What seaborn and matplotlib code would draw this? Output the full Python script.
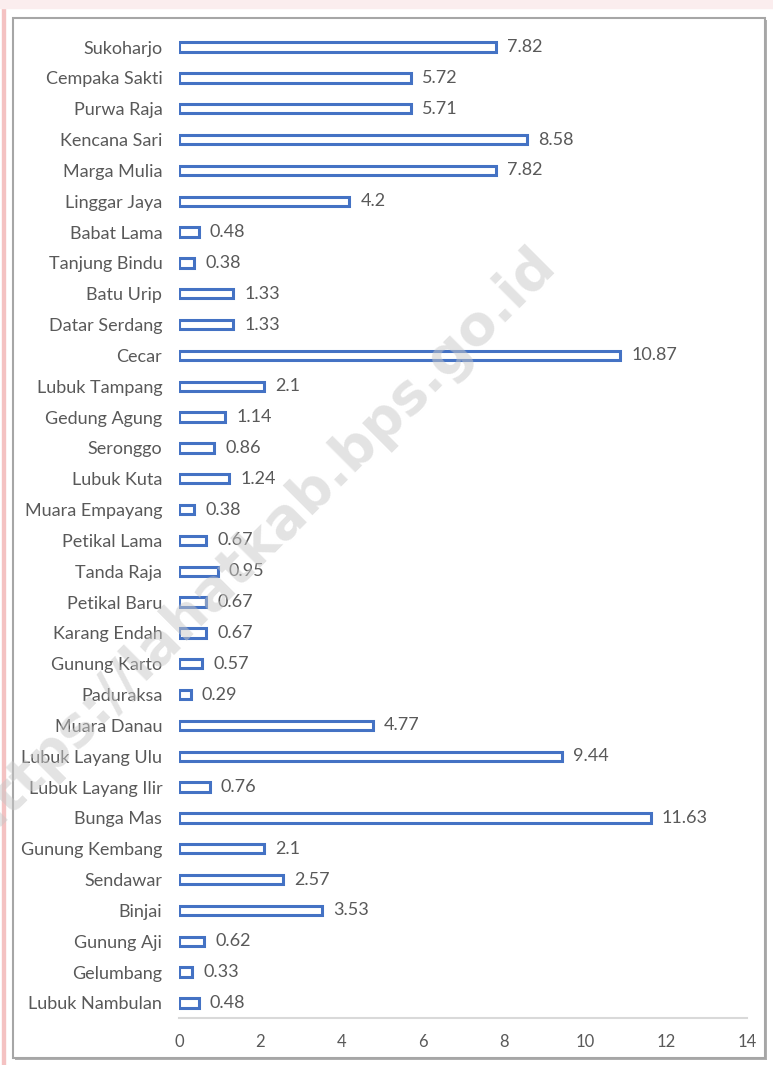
import matplotlib
matplotlib.use("Agg")
import matplotlib.pyplot as plt
import seaborn as sns
import pandas as pd
from matplotlib.patches import Rectangle

villages = ["Sukoharjo", "Cempaka Sakti", "Purwa Raja", "Kencana Sari", "Marga Mulia",
            "Linggar Jaya", "Babat Lama", "Tanjung Bindu", "Batu Urip", "Datar Serdang",
            "Cecar", "Lubuk Tampang", "Gedung Agung", "Seronggo", "Lubuk Kuta",
            "Muara Empayang", "Petikal Lama", "Tanda Raja", "Petikal Baru", "Karang Endah",
            "Gunung Karto", "Paduraksa", "Muara Danau", "Lubuk Layang Ulu", "Lubuk Layang Ilir",
            "Bunga Mas", "Gunung Kembang", "Sendawar", "Binjai", "Gunung Aji",
            "Gelumbang", "Lubuk Nambulan"]
values = [7.82, 5.72, 5.71, 8.58, 7.82,
          4.2, 0.48, 0.38, 1.33, 1.33,
          10.87, 2.1, 1.14, 0.86, 1.24,
          0.38, 0.67, 0.95, 0.67, 0.67,
          0.57, 0.29, 4.77, 9.44, 0.76,
          11.63, 2.1, 2.57, 3.53, 0.62,
          0.33, 0.48]
x_ticks = [0, 2, 4, 6, 8, 10, 12, 14]

df = pd.DataFrame({"desa": villages, "nilai": values})

sns.set_style("white")
plt.rcParams["font.family"] = ["Lato", "DejaVu Sans"]
gray = "#595959"
blue = "#4472C4"

fig = plt.figure(figsize=(7.73, 10.65), dpi=100)
ax = fig.add_axes([0.2316, 0.0438, 0.7348, 0.9265])

sns.barplot(data=df, x="nilai", y="desa", orient="h", color="white",
            edgecolor=blue, linewidth=2.2, width=0.3, saturation=1, ax=ax)

ax.bar_label(ax.containers[0], labels=[str(v) for v in values], padding=8,
             fontsize=13, color=gray)

ax.set_xlim(0, 14)
ax.set_xticks(x_ticks)
ax.set_xlabel("")
ax.set_ylabel("")
ax.tick_params(axis="y", length=0, pad=12, labelsize=13, labelcolor=gray)
ax.tick_params(axis="x", length=0, pad=11, labelsize=12, labelcolor=gray)
for side in ["top", "right", "left"]:
    ax.spines[side].set_visible(False)
ax.spines["bottom"].set_color("#D9D9D9")
ax.spines["bottom"].set_linewidth(1.5)

# frame around the chart
fig.patches.append(Rectangle((15 / 773, 1 - 1060 / 1065), 752 / 773, 1040 / 1065,
                             transform=fig.transFigure, fill=True, zorder=-2,
                             facecolor="#B0B0B0", edgecolor="none"))
fig.patches.append(Rectangle((13 / 773, 1 - 1058 / 1065), 752 / 773, 1040 / 1065,
                             transform=fig.transFigure, zorder=-1,
                             facecolor="white", edgecolor="#A6A6A6", linewidth=1.5))
fig.patches.append(Rectangle((2 / 773, 0), 3 / 773, 1,
                             transform=fig.transFigure, color="#F4C2C2"))
fig.patches.append(Rectangle((0, 1 - 8 / 1065), 1, 8 / 1065,
                             transform=fig.transFigure, color="#FBEDEE"))

# watermark
fig.text(0.335, 0.49, "https://lahatkab.bps.go.id", rotation=45, fontsize=40,
         fontweight="bold", color="#C8C8C8", alpha=0.5, ha="center", va="center",
         family=["DejaVu Sans"])

fig.savefig("out.png", dpi=100)
